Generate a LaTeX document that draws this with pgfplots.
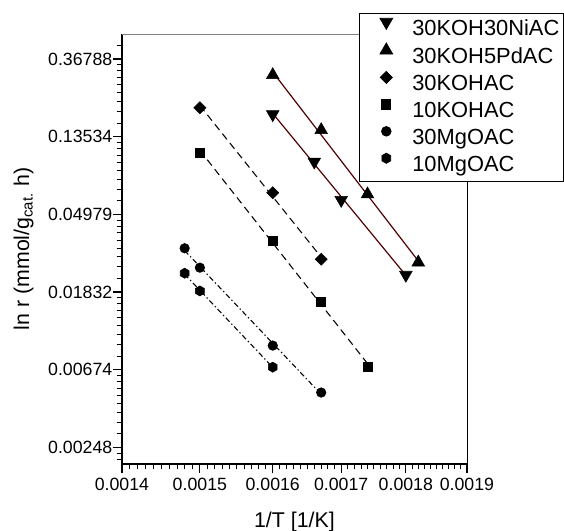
\documentclass[border=0pt]{standalone}
\usepackage{pgfplots}
\pgfplotsset{compat=1.18}
\usepackage{fontspec}
\setmainfont{Liberation Sans}
\definecolor{darkred}{RGB}{80,0,0}
\pgfdeclareplotmark{hexagon*}{%
  \pgfpathmoveto{\pgfqpoint{0pt}{\pgfplotmarksize}}%
  \pgfpathlineto{\pgfqpoint{0.866\pgfplotmarksize}{0.5\pgfplotmarksize}}%
  \pgfpathlineto{\pgfqpoint{0.866\pgfplotmarksize}{-0.5\pgfplotmarksize}}%
  \pgfpathlineto{\pgfqpoint{0pt}{-\pgfplotmarksize}}%
  \pgfpathlineto{\pgfqpoint{-0.866\pgfplotmarksize}{-0.5\pgfplotmarksize}}%
  \pgfpathlineto{\pgfqpoint{-0.866\pgfplotmarksize}{0.5\pgfplotmarksize}}%
  \pgfpathclose
  \pgfusepathqfillstroke
}
\pgfplotsset{
  mylegend/.style={legend image code/.code={%
    \path[draw=none,fill=none] (0pt,0pt) rectangle (36.75pt,0.5pt);%
    \draw[##1] plot coordinates {(19.25pt,5.5pt)};}},
}
\begin{document}
\begin{tikzpicture}
\begin{axis}[
  at={(0,0)}, anchor=south west,
  scale only axis, width=258.75pt, height=322.5pt,
  xmode=log, ymode=log,
  xmin=0.0014, xmax=0.0019, ymin=0.002, ymax=0.508,
  xtick={0.0014,0.0015,0.0016,0.0017,0.0018,0.0019},
  xticklabels={0.0014,0.0015,0.0016,0.0017,0.0018,0.0019},
  minor xtick={0.00141,0.00142,0.00143,0.00144,0.00145,0.00146,0.00147,0.00148,0.00149,
    0.00151,0.00152,0.00153,0.00154,0.00155,0.00156,0.00157,0.00158,0.00159,
    0.00161,0.00162,0.00163,0.00164,0.00165,0.00166,0.00167,0.00168,0.00169,
    0.00171,0.00172,0.00173,0.00174,0.00175,0.00176,0.00177,0.00178,0.00179,
    0.00181,0.00182,0.00183,0.00184,0.00185,0.00186,0.00187,0.00188,0.00189},
  ytick={0.00247875,0.00673795,0.0183156,0.0497871,0.135335,0.367879},
  yticklabels={0.00248,0.00674,0.01832,0.04979,0.13534,0.36788},
  minor ytick={0.438115,
    0.161173,0.187011,0.21285,0.238688,0.264526,0.290364,0.316203,0.342041,
    0.0592925,0.0687978,0.0783032,0.0878085,0.0973139,0.1068193,0.1163246,0.12583,
    0.0218124,0.0253093,0.0288061,0.0323029,0.0357998,0.0392966,0.0427934,0.0462903,
    0.00802436,0.00931077,0.01059718,0.01188359,0.01317,0.01445641,0.01574282,0.01702923,
    0.00295199,0.00342523,0.00389847,0.00437171,0.00484495,0.00531819,0.00579143,0.00626467,
    0.00213056,0.00230466},
  tick align=outside, xtick pos=bottom, ytick pos=left,
  major tick length=6.75pt, minor tick length=4pt,
  major tick style={line width=0.9pt, black},
  minor tick style={line width=0.7pt, black},
  tick label style={font=\fontsize{13.3}{15}\selectfont},
  yticklabel style={xshift=3pt},
  label style={font=\fontsize{16}{19}\selectfont},
  xlabel={1/T [1/K]},
  ylabel={ln r (mmol/g\textsubscript{cat.} h)},
  xlabel shift=9.5pt,
  ylabel shift=4pt,
  axis line style={draw=none},
  clip=false,
  legend style={at={(rel axis cs:0.687,1.0488)}, anchor=north west,
    draw=black, line width=0.6pt, fill=white,
    font=\fontsize{16.4}{19}\selectfont,
    inner xsep=1pt, inner ysep=2pt, row sep=0.4pt,
    nodes={inner sep=2pt, text height=12.3pt, text depth=3.5pt},
    cells={anchor=west}},
]
\draw[line width=1.1pt] (rel axis cs:0,1) -- (rel axis cs:0,0) -- (rel axis cs:1,0);
\draw[line width=0.6pt, gray] (rel axis cs:0,1) -- (rel axis cs:1,1);
\draw[line width=0.6pt] (rel axis cs:1,0) -- (rel axis cs:1,1);
% fit lines
\addplot[forget plot, darkred, line width=0.9pt] coordinates {(0.0016,0.1827) (0.0018,0.02271)};
\addplot[forget plot, darkred, line width=0.9pt] coordinates {(0.0016,0.3112) (0.00182,0.02733)};
\addplot[forget plot, black, line width=0.8pt, dash pattern=on 5.5pt off 3.5pt] coordinates {(0.0015,0.2022) (0.00167,0.02866)};
\addplot[forget plot, black, line width=0.8pt, dash pattern=on 5.5pt off 3.5pt] coordinates {(0.0015,0.1136) (0.00174,0.00729)};
\addplot[forget plot, black, line width=0.8pt, dash pattern=on 4pt off 2pt on 1pt off 2pt] coordinates {(0.00148,0.03124) (0.00167,0.00491)};
\addplot[forget plot, black, line width=0.8pt, dash pattern=on 4pt off 2pt on 1pt off 2pt] coordinates {(0.00148,0.02303) (0.0016,0.00694)};
% data
\addplot[only marks, mylegend, mark=triangle*, mark size=5.5pt, mark options={rotate=180, fill=black, draw=black, solid}] coordinates {
(0.0016,0.1806) (0.00166,0.0981) (0.0017,0.0599) (0.0018,0.02283)};
\addlegendentry{30KOH30NiAC}
\addplot[only marks, mylegend, mark=triangle*, mark size=5.5pt, mark options={fill=black, draw=black, solid}] coordinates {
(0.0016,0.2994) (0.00167,0.1475) (0.00174,0.0645) (0.00182,0.02682)};
\addlegendentry{30KOH5PdAC}
\addplot[only marks, mylegend, mark=square*, mark size=3.2pt, mark options={rotate=45, fill=black, draw=black, solid}] coordinates {
(0.0015,0.1966) (0.0016,0.0658) (0.00167,0.02794)};
\addlegendentry{30KOHAC}
\addplot[only marks, mylegend, mark=square*, mark size=3.4pt, mark options={fill=black, draw=black, solid}] coordinates {
(0.0015,0.1107) (0.0016,0.03536) (0.00167,0.01618) (0.00174,0.00701)};
\addlegendentry{10KOHAC}
\addplot[only marks, mylegend, mark=*, mark size=3.6pt, mark options={fill=black, draw=black, solid}] coordinates {
(0.00148,0.03218) (0.0015,0.02507) (0.0016,0.00919) (0.00167,0.00502)};
\addlegendentry{30MgOAC}
\addplot[only marks, mylegend, mark=hexagon*, mark size=3.8pt, mark options={fill=black, draw=black, solid}] coordinates {
(0.00148,0.02333) (0.0015,0.01858) (0.0016,0.00696)};
\addlegendentry{10MgOAC}
\end{axis}
\pgfresetboundingbox
\path[use as bounding box] (-91.5pt,-50.25pt) rectangle (331.5pt,348pt);
\end{tikzpicture}
\end{document}
